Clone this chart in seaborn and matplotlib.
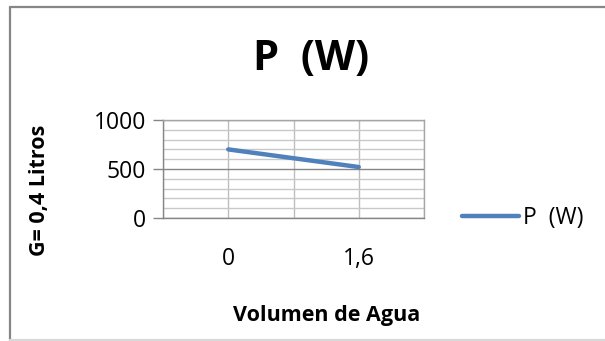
import matplotlib
matplotlib.use("Agg")
import matplotlib.pyplot as plt
from matplotlib.lines import Line2D
from matplotlib.ticker import MultipleLocator, FixedLocator
import seaborn as sns
import pandas as pd

# Data
volumen = ["0", "1,6"]
potencia = [700, 520]
serie = "P  (W)"

sns.set_theme(style="white")
plt.rcParams["font.family"] = ["Open Sans", "DejaVu Sans"]
plt.rcParams["text.color"] = "black"

W, H = 605, 341
fig = plt.figure(figsize=(W / 100, H / 100), dpi=100)

def fx(px):
    return px / W

def fy(py):
    return 1 - py / H

ax = fig.add_axes([fx(163), fy(218), fx(424) - fx(163), fy(120) - fy(218)])

df = pd.DataFrame({"Volumen": volumen, "P": potencia})
sns.lineplot(data=df, x="Volumen", y="P", ax=ax, color="#4f81bd",
             linewidth=3.2, solid_capstyle="round", legend=False)

ax.set_xlim(-0.5, 1.5)
ax.set_ylim(0, 1000)
ax.yaxis.set_major_locator(MultipleLocator(500))
ax.yaxis.set_minor_locator(MultipleLocator(100))
ax.xaxis.set_minor_locator(FixedLocator([-0.5, 0.5, 1.5]))

ax.grid(True, which="major", axis="y", color="#868686", linewidth=1.0)
ax.grid(True, which="minor", axis="y", color="#c8c8c8", linewidth=1.0)
ax.grid(True, which="both", axis="x", color="#bdbdbd", linewidth=1.0)
ax.set_axisbelow(True)

for side in ["top", "right"]:
    ax.spines[side].set_color("#a6a6a6")
    ax.spines[side].set_linewidth(1.0)
ax.spines["left"].set_color("#868686")
ax.spines["bottom"].set_color("#868686")
ax.spines["left"].set_linewidth(1.0)
ax.spines["bottom"].set_linewidth(1.0)

ax.tick_params(axis="y", which="major", length=7, width=1, color="#868686",
               direction="out", left=True, labelsize=16.5, pad=5, labelcolor="black")
ax.tick_params(axis="y", which="minor", length=0)
ax.tick_params(axis="x", which="both", length=0, labelsize=16.5, pad=21,
               labelcolor="black")

ax.set_xlabel("")
ax.set_ylabel("")

fig.text(fx(327), fy(316), "Volumen de Agua", ha="center", va="center",
         fontsize=15.5, fontweight="bold", color="black")
fig.text(fx(40), fy(190), "G= 0,4 Litros", ha="center", va="center",
         rotation=90, fontsize=15.5, fontweight="bold", color="black")
fig.text(fx(311), fy(60), serie, ha="center", va="center",
         fontsize=30, fontweight="bold", color="black")

handle = Line2D([], [], color="#4f81bd", linewidth=3.2, solid_capstyle="round")
leg = fig.legend([handle], [serie], loc="center left",
                 bbox_to_anchor=(fx(462), fy(218)), frameon=False, fontsize=16.5,
                 handlelength=2.5, handletextpad=0.15, borderaxespad=0, borderpad=0)
for t in leg.get_texts():
    t.set_color("black")

# Chart border
border = dict(transform=fig.transFigure, linewidth=1.6)
fig.add_artist(Line2D([fx(9.5), fx(9.5)], [fy(7), fy(340)], color="#868686", **border))
fig.add_artist(Line2D([fx(9.5), fx(605)], [fy(7), fy(7)], color="#868686", **border))
fig.add_artist(Line2D([fx(9.5), fx(605)], [fy(340), fy(340)], color="#d9d9d9", **border))

fig.savefig("out.png", dpi=100)
